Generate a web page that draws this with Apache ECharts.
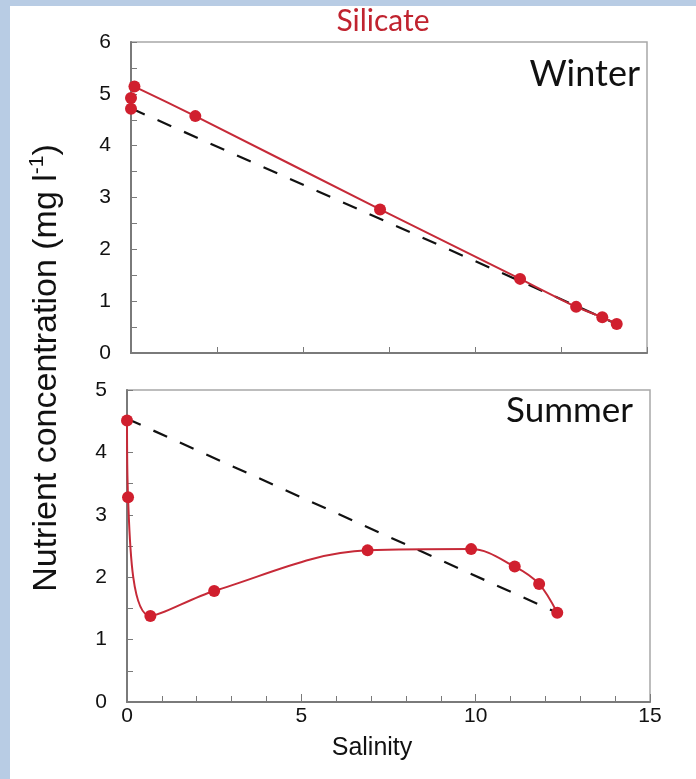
<!DOCTYPE html>
<html><head><meta charset="utf-8">
<script src="https://cdn.jsdelivr.net/npm/echarts@6/dist/echarts.min.js"></script>
<style>
html,body{margin:0;padding:0;background:#b8cce4;overflow:hidden;}
#bg{position:absolute;left:10px;top:6px;width:686px;height:773px;background:#fff;}
#c{position:absolute;left:0;top:0;width:696px;height:779px;}
</style>
</head><body><div id="bg"></div><div id="c"></div>
<script>
// Winter panel
const winterLineX = [0.1, 1.87, 7.24, 11.31, 12.94, 13.70, 14.12];
const winterLineY = [5.14, 4.57, 2.77, 1.43, 0.89, 0.69, 0.56];
const winterExtraX = [0, 0];
const winterExtraY = [4.92, 4.71];
const winterMixX = [0, 14.12];
const winterMixY = [4.72, 0.56];
// Summer panel
const summerX = [0, 0.03, 0.67, 2.5, 6.9, 9.87, 11.12, 11.82, 12.34];
const summerY = [4.51, 3.28, 1.38, 1.78, 2.43, 2.45, 2.17, 1.89, 1.43];
const summerMixX = [0, 12.34];
const summerMixY = [4.54, 1.43];
// Axes
const xMin = 0, xMax = 15;
const winterYMax = 6, summerYMax = 5;

const zip = (a, b) => a.map((v, i) => [v, b[i]]);
const RED = '#d01f2e', LINE = '#c62a38';
const AX = '#7a7a7a', FRAME = '#a8a8a8';
const labelFont = {color: '#111', fontSize: 21, fontFamily: 'Liberation Sans'};

function xAx(gi, labels) {
  return {
    type: 'value', gridIndex: gi, min: xMin, max: xMax, interval: labels ? 5 : 2.5,
    axisLine: {show: true, onZero: false, lineStyle: {color: AX, width: 2}},
    axisTick: {show: true, inside: true, length: labels ? 8 : 6, lineStyle: {color: AX, width: 1}},
    minorTick: {show: !!labels, splitNumber: 5, length: 6, lineStyle: {color: AX, width: 1}},
    axisLabel: Object.assign({show: !!labels, margin: 4}, labelFont),
    splitLine: {show: false}
  };
}
function yAx(gi, max) {
  return {
    type: 'value', gridIndex: gi, min: 0, max: max, interval: 1,
    axisLine: {show: true, onZero: false, lineStyle: {color: AX, width: 2}},
    axisTick: {show: true, inside: true, length: 6, lineStyle: {color: AX, width: 1}},
    minorTick: {show: true, splitNumber: 2, length: 6, lineStyle: {color: AX, width: 1}},
    axisLabel: Object.assign({margin: 20, padding: [5, 0, 0, 0]}, labelFont),
    splitLine: {show: false}
  };
}

const chart = echarts.init(document.getElementById('c'), null, {renderer: 'canvas'});
chart.setOption({
  backgroundColor: 'transparent',
  animation: false,
  grid: [
    {left: 131, top: 42, width: 516, height: 311, show: true, borderColor: FRAME, borderWidth: 1.5, backgroundColor: 'transparent'},
    {left: 127, top: 390, width: 523, height: 312, show: true, borderColor: FRAME, borderWidth: 1.5, backgroundColor: 'transparent'}
  ],
  xAxis: [xAx(0, false), xAx(1, true)],
  yAxis: [yAx(0, winterYMax), yAx(1, summerYMax)],
  series: [
    {type: 'line', xAxisIndex: 0, yAxisIndex: 0, data: zip(winterMixX, winterMixY), symbol: 'none',
     lineStyle: {color: '#111', width: 2.2, type: [15, 14]}, z: 1},
    {type: 'line', xAxisIndex: 0, yAxisIndex: 0, data: zip(winterLineX, winterLineY), smooth: 0.2,
     symbol: 'circle', symbolSize: 12, itemStyle: {color: RED}, lineStyle: {color: LINE, width: 2}, z: 3},
    {type: 'scatter', xAxisIndex: 0, yAxisIndex: 0, data: zip(winterExtraX, winterExtraY),
     symbol: 'circle', symbolSize: 12, itemStyle: {color: RED, opacity: 1}, z: 4},
    {type: 'line', xAxisIndex: 1, yAxisIndex: 1, data: zip(summerMixX, summerMixY), symbol: 'none',
     lineStyle: {color: '#111', width: 2.2, type: [15, 14]}, z: 1},
    {type: 'line', xAxisIndex: 1, yAxisIndex: 1, data: zip(summerX, summerY), smooth: 0.35,
     symbol: 'circle', symbolSize: 12, itemStyle: {color: RED}, lineStyle: {color: LINE, width: 2}, z: 3}
  ],
  graphic: [
    {type: 'text', x: 383, y: 21, style: {text: 'Silicate', fill: '#c0232f', font: '30px Lato', align: 'center', verticalAlign: 'middle'}},
    {type: 'text', x: 640, y: 74, style: {text: 'Winter', fill: '#111', font: '36px Lato', align: 'right', verticalAlign: 'middle'}},
    {type: 'text', x: 633, y: 411, style: {text: 'Summer', fill: '#111', font: '35px Lato', align: 'right', verticalAlign: 'middle'}},
    {type: 'text', x: 372, y: 748, style: {text: 'Salinity', fill: '#111', font: '25px "Liberation Sans"', align: 'center', verticalAlign: 'middle'}},
    {type: 'text', x: 47, y: 368, rotation: Math.PI / 2,
     style: {text: '{n|Nutrient concentration (mg l}{s|-1}{n|)}', align: 'center', verticalAlign: 'middle',
       rich: {n: {fontSize: 34, fontFamily: 'Liberation Sans', fill: '#111', lineHeight: 40},
              s: {fontSize: 21, fontFamily: 'Liberation Sans', fill: '#111', verticalAlign: 'top', lineHeight: 22}}}}
  ]
});
</script>
</body></html>
